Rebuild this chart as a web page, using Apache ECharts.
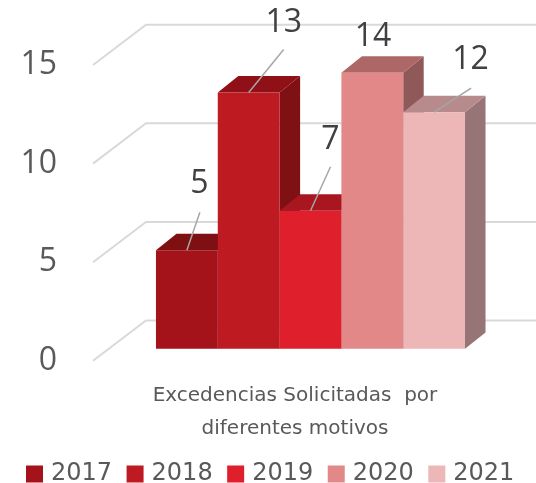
<!DOCTYPE html>
<html>
<head>
<meta charset="utf-8">
<style>html,body{margin:0;padding:0;background:#fff}#chart{width:536px;height:483px}</style>
<script src="https://cdn.jsdelivr.net/npm/echarts@6/dist/echarts.min.js"></script>
</head>
<body>
<div id="chart"></div>
<script>
const years = ['2017', '2018', '2019', '2020', '2021']
const values = [5, 13, 7, 14, 12]
const category = 'Excedencias Solicitadas  por\ndiferentes motivos'
const gridValues = [0, 5, 10, 15]

const colors = ['#A31319', '#BE1A22', '#DF1F2B', '#E38888', '#EDB6B7']
const topColors = ['#7E0F13', '#8F1016', '#A8161F', '#AE6767', '#B78B8C']
const sideColors = ['#6F0D11', '#7F1014', '#95131B', '#8F5959', '#977475']

// 数据标签相对柱顶中心的偏移（px）
const labelDx = [12.5, 35, 20, 0.7, 36.5]
const labelDy = [-66, -70, -71, -35.7, -52]
const leaderDx = [13, 35, 20, 0, 37]
const leaderDy = [-38, -43, -44, 0, -24]

const WALL = [53, -40.3]    // 前平面到后墙的投影
const FRONT = [15.5, -12]   // 前平面到柱子正面
const DEPTH = [20.5, -16.4] // 柱子自身厚度
const BAR_RATIO = 0.153     // 柱宽 / 类目宽

// 网格线：前平面 -> 后墙 -> 向右
function renderGrid(params, api) {
    const p = api.coord([0, api.value(1)])
    const left = params.coordSys.x
    const right = params.coordSys.x + params.coordSys.width
    return {
        type: 'polyline',
        shape: { points: [[left, p[1]], [left + WALL[0], p[1] + WALL[1]], [right + WALL[0], p[1] + WALL[1]]] },
        style: { stroke: '#D9D9D9', lineWidth: 2, fill: null }
    }
}

function renderBar(i) {
    return function (params, api) {
        const w = api.size([1, 0])[0] * BAR_RATIO
        const top = api.coord([0, api.value(1)])
        const base = api.coord([0, 0])
        const x0 = top[0] + (i - 2.5) * w + FRONT[0]
        const x1 = x0 + w
        const y0 = top[1] + FRONT[1]
        const y1 = base[1] + FRONT[1]
        const cx = x0 + w / 2
        const children = [
            { type: 'polygon', shape: { points: [[x1, y0], [x1 + DEPTH[0], y0 + DEPTH[1]], [x1 + DEPTH[0], y1 + DEPTH[1]], [x1, y1]] }, style: { fill: sideColors[i] } },
            { type: 'polygon', shape: { points: [[x0, y0], [x0 + DEPTH[0], y0 + DEPTH[1]], [x1 + DEPTH[0], y0 + DEPTH[1]], [x1, y0]] }, style: { fill: topColors[i] } },
            { type: 'rect', shape: { x: x0, y: y0, width: w, height: y1 - y0 }, style: { fill: colors[i] } }
        ]
        if (leaderDy[i]) {
            children.push({
                type: 'line',
                shape: { x1: cx, y1: y0, x2: cx + leaderDx[i], y2: y0 + leaderDy[i] },
                style: { stroke: '#A6A6A6', lineWidth: 1.5 }
            })
        }
        children.push({
            type: 'text',
            style: {
                x: cx + labelDx[i], y: y0 + labelDy[i],
                text: String(api.value(1)),
                align: 'center', verticalAlign: 'middle',
                font: '32px "Open Sans"', fill: '#404040'
            }
        })
        return { type: 'group', children: children }
    }
}

const chart = echarts.init(document.getElementById('chart'))

const series = [{
    type: 'custom',
    silent: true,
    clip: false,
    z: 1,
    renderItem: renderGrid,
    encode: { x: 0, y: 1 },
    data: gridValues.map(v => [0, v])
}]
years.forEach((year, i) => {
    series.push({
        name: year,
        type: 'custom',
        clip: false,
        z: 2 + i,
        renderItem: renderBar(i),
        encode: { x: 0, y: 1 },
        itemStyle: { color: colors[i] },
        data: [[0, values[i]]]
    })
})

chart.setOption({
    animation: false,
    backgroundColor: '#fff',
    grid: { left: 93, width: 404, top: 65, bottom: 122.2 },
    legend: {
        data: years,
        left: 26, top: 462,
        padding: 0,
        icon: 'rect',
        itemWidth: 17, itemHeight: 17,
        itemGap: 14.5,
        textStyle: { fontFamily: 'DejaVu Sans', fontSize: 24, color: '#595959', padding: [0, 0, 6, 3] }
    },
    xAxis: {
        type: 'category',
        data: [category],
        axisLine: { show: false },
        axisTick: { show: false },
        axisLabel: { fontFamily: 'DejaVu Sans', fontSize: 20, lineHeight: 33, color: '#595959', margin: 18 }
    },
    yAxis: {
        type: 'value',
        min: 0, max: 15, interval: 5,
        splitLine: { show: false },
        axisLine: { show: false },
        axisTick: { show: false },
        axisLabel: { fontFamily: 'Open Sans', fontSize: 32, color: '#595959', margin: 36, padding: [0, 0, 6, 0] }
    },
    series: series
})
</script>
</body>
</html>
